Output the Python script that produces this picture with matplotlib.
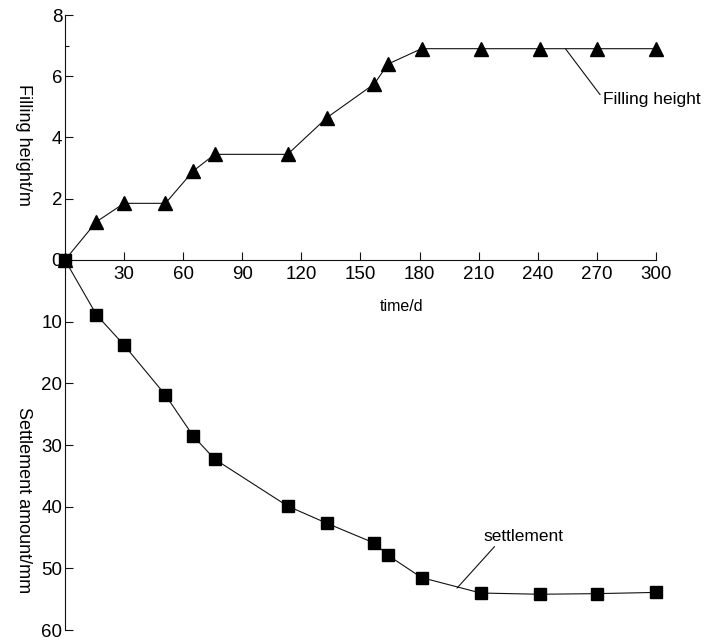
"""Filling height and settlement against time, stacked on one time axis."""

import matplotlib
matplotlib.use('Agg')
from matplotlib import pyplot as plt
from matplotlib.ticker import FixedLocator

##############
### inputs ###
##############

days = [0, 16, 30, 51, 65, 76, 113, 133, 157, 164, 181, 211, 241, 270, 300]
fill_height = [0, 1.25, 1.85, 1.85, 2.9, 3.45, 3.45, 4.65, 5.75, 6.4,
               6.9, 6.9, 6.9, 6.9, 6.9]
settlement = [0, 8.9, 13.8, 21.9, 28.5, 32.3, 39.9, 42.7, 45.9, 47.9,
              51.5, 54.0, 54.2, 54.1, 53.9]

x_ticks = [30, 60, 90, 120, 150, 180, 210, 240, 270, 300]
h_ticks = [0, 2, 4, 6, 8]
s_ticks = [10, 20, 30, 40, 50, 60]

############
### MAIN ###
############

plt.rcParams['font.family'] = ['Liberation Sans', 'DejaVu Sans']
ink = '#111111'

f = plt.figure(figsize=(7.07, 6.44), dpi=100)
left, width = 0.0919, 0.836
ax_h = f.add_axes([left, 0.5963, width, 0.3804])
ax_s = f.add_axes([left, 0.0217, width, 0.5746], sharex=ax_h)

# upper panel: filling height, its bottom spine is the time axis
ax_h.plot(days, fill_height, color=ink, lw=0.8, marker='^', ms=10.5,
          mfc='black', mec='black', clip_on=False, zorder=3)
ax_h.set_xlim(0, 300)
ax_h.set_ylim(0, 8)
for side in ['top', 'right']:
    ax_h.spines[side].set_visible(False)
ax_h.xaxis.set_major_locator(FixedLocator(x_ticks))
ax_h.yaxis.set_major_locator(FixedLocator(h_ticks))
ax_h.yaxis.set_minor_locator(FixedLocator([7]))
ax_h.tick_params(axis='both', which='major', direction='in', length=6,
                 width=0.8, color=ink, labelsize=13.5, pad=2)
ax_h.tick_params(axis='y', which='minor', direction='in', length=3,
                 width=0.8, color=ink)
ax_h.tick_params(axis='x', pad=4)
ax_h.set_xlabel('time/d', fontsize=11.5)
ax_h.xaxis.set_label_coords(171 / 300., -0.16)
ax_h.set_ylabel('Filling height/m', fontsize=13, rotation=270, va='center')
ax_h.yaxis.set_label_coords(-0.071, 0.469)

# lower panel: settlement grows downward
ax_s.plot(days, settlement, color=ink, lw=0.8, marker='s', ms=8.6,
          mfc='black', mec='black', clip_on=False, zorder=3)
ax_s.set_ylim(60, 0)
for side in ['top', 'right', 'bottom']:
    ax_s.spines[side].set_visible(False)
ax_s.yaxis.set_major_locator(FixedLocator(s_ticks))
ax_s.tick_params(axis='x', which='both', bottom=False, labelbottom=False)
ax_s.tick_params(axis='y', direction='in', length=6, width=0.8, color=ink,
                 labelsize=13.5, pad=2)
ax_s.set_ylabel('Settlement amount/mm', fontsize=13, rotation=270,
                va='center')
ax_s.yaxis.set_label_coords(-0.071, 0.351)

for ax in [ax_h, ax_s]:
    for sp in ax.spines.values():
        sp.set_linewidth(0.8)
        sp.set_color(ink)
    ax.patch.set_alpha(0)

# callouts naming the two curves
ax_h.annotate('Filling height', xy=(254, 6.9), xytext=(273, 5.23),
              fontsize=12.5, ha='left', va='center',
              arrowprops=dict(arrowstyle='-', color=ink, lw=0.8,
                              relpos=(0, 0.6), shrinkA=0, shrinkB=0))
ax_s.annotate('settlement', xy=(199, 53.2), xytext=(232.6, 44.8),
              fontsize=12.5, ha='center', va='center',
              arrowprops=dict(arrowstyle='-', color=ink, lw=0.8,
                              relpos=(0.19, 0.1), shrinkA=0, shrinkB=0))

f.savefig('out.png', dpi=100)
